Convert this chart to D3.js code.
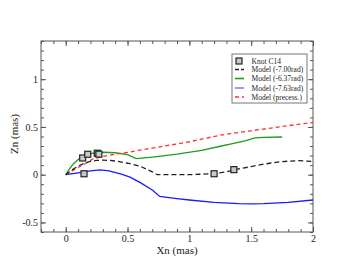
<!DOCTYPE html>
<html><head><meta charset="utf-8">
<script src="https://cdn.jsdelivr.net/npm/d3@7"></script>
<style>html,body{margin:0;padding:0;background:#fff;}svg{display:block;}</style>
</head><body>
<script>
// ---- data ----
const knotX = [0.137, 0.178, 0.255, 0.268, 0.148, 1.20, 1.36];
const knotY = [0.175, 0.214, 0.225, 0.215, 0.010, 0.010, 0.053];

const m700X = [0, 0.05, 0.1, 0.15, 0.2, 0.25, 0.3, 0.36, 0.42, 0.5, 0.6, 0.7, 0.74, 0.8, 0.9, 1.0, 1.1, 1.2, 1.3, 1.36, 1.4, 1.5, 1.6, 1.7, 1.8, 1.88, 2.0];
const m700Y = [0, 0.05, 0.09, 0.12, 0.14, 0.15, 0.152, 0.15, 0.14, 0.12, 0.09, 0.03, 0.0, 0.0, 0.0, 0.0, 0.005, 0.01, 0.03, 0.05, 0.06, 0.085, 0.11, 0.13, 0.142, 0.147, 0.138];

const m637X = [0, 0.03, 0.06, 0.1, 0.15, 0.2, 0.25, 0.3, 0.4, 0.5, 0.57, 0.7, 0.9, 1.1, 1.25, 1.33, 1.45, 1.53, 1.6, 1.75];
const m637Y = [0, 0.06, 0.11, 0.16, 0.2, 0.22, 0.23, 0.235, 0.23, 0.21, 0.168, 0.185, 0.215, 0.255, 0.298, 0.32, 0.355, 0.386, 0.39, 0.395];

const m763X = [0, 0.1, 0.2, 0.28, 0.35, 0.45, 0.52, 0.6, 0.7, 0.76, 0.9, 1.0, 1.2, 1.4, 1.5, 1.6, 1.8, 2.0];
const m763Y = [0, 0.02, 0.04, 0.05, 0.04, 0.005, -0.025, -0.08, -0.16, -0.228, -0.25, -0.265, -0.29, -0.303, -0.305, -0.302, -0.29, -0.265];

const precX = [0, 0.05, 0.1, 0.15, 0.22, 0.3, 0.4, 0.52, 0.6, 0.8, 1.0, 1.25, 1.33, 1.5, 1.75, 2.0];
const precY = [0, 0.04, 0.075, 0.11, 0.165, 0.19, 0.215, 0.238, 0.258, 0.3, 0.345, 0.414, 0.43, 0.46, 0.505, 0.547];

const xTicks = [0, 0.5, 1, 1.5, 2];
const xTickLabels = ["0", "0.5", "1", "1.5", "2"];
const yTicks = [-0.5, 0, 0.5, 1];
const yTickLabels = ["-0.5", "0", "0.5", "1"];

const legendLabels = ["Knot C14", "Model (-7.00rad)", "Model (-6.37rad)", "Model (-7.63rad)", "Model (precess.)"];

// ---- layout ----
const W = 353, H = 273;
const L = 41, R = 313, T = 41, B = 232;
const font = "Liberation Serif, Times New Roman, serif";

const x = d3.scaleLinear().domain([-0.2, 2]).range([L, R]);
const y = d3.scaleLinear().domain([-0.6, 1.4]).range([B, T]);

const svg = d3.select("body").append("svg").attr("width", W).attr("height", H);
svg.append("rect").attr("width", W).attr("height", H).attr("fill", "#fff");

const xMinor = d3.range(-2, 21).map(i => i / 10);
const yMinor = d3.range(-6, 15).map(i => i / 10);

// axes (inward ticks, all four sides)
function addAxis(axisGen, tx, ty) {
  const g = svg.append("g").attr("transform", `translate(${tx},${ty})`).call(axisGen);
  g.select(".domain").remove();
  g.selectAll("line").attr("stroke", "#555");
  g.selectAll("text").attr("font-family", font).attr("font-size", 10).attr("fill", "#222");
  return g;
}
// minor ticks
addAxis(d3.axisBottom(x).tickValues(xMinor).tickSize(-3).tickFormat(""), 0, B);
addAxis(d3.axisTop(x).tickValues(xMinor).tickSize(-3).tickFormat(""), 0, T);
addAxis(d3.axisLeft(y).tickValues(yMinor).tickSize(-3).tickFormat(""), L, 0);
addAxis(d3.axisRight(y).tickValues(yMinor).tickSize(-3).tickFormat(""), R, 0);
// major ticks
addAxis(d3.axisBottom(x).tickValues(xTicks).tickSize(-5).tickPadding(3).tickFormat((d, i) => xTickLabels[i]), 0, B);
addAxis(d3.axisTop(x).tickValues(xTicks).tickSize(-5).tickFormat(""), 0, T);
addAxis(d3.axisLeft(y).tickValues(yTicks).tickSize(-5).tickPadding(3).tickFormat((d, i) => yTickLabels[i]), L, 0);
addAxis(d3.axisRight(y).tickValues(yTicks).tickSize(-5).tickFormat(""), R, 0);

svg.append("rect").attr("x", L).attr("y", T).attr("width", R - L).attr("height", B - T)
  .attr("fill", "none").attr("stroke", "#555").attr("stroke-width", 1);

// axis titles
svg.append("text").attr("x", (L + R) / 2).attr("y", 254).attr("text-anchor", "middle")
  .attr("font-family", font).attr("font-size", 11).attr("fill", "#222").text("Xn (mas)");
svg.append("text").attr("transform", "translate(18,134) rotate(-90)").attr("text-anchor", "middle")
  .attr("font-family", font).attr("font-size", 11).attr("fill", "#222").text("Zn (mas)");

// lines
const line = d3.line().x(d => x(d[0])).y(d => y(d[1]));
svg.append("clipPath").attr("id", "clip").append("rect")
  .attr("x", L).attr("y", T).attr("width", R - L).attr("height", B - T);
const plot = svg.append("g").attr("clip-path", "url(#clip)");

const series = [
  {xs: m637X, ys: m637Y, color: "#1f9a1f", dash: null},
  {xs: m763X, ys: m763Y, color: "#1a1aff", dash: null},
  {xs: precX, ys: precY, color: "#ff3030", dash: "4,3"},
  {xs: m700X, ys: m700Y, color: "#222", dash: "5,3"}
];
series.forEach(s => {
  plot.append("path").datum(s.xs.map((v, i) => [v, s.ys[i]]))
    .attr("d", line).attr("fill", "none").attr("stroke", s.color)
    .attr("stroke-width", 1.3).attr("stroke-dasharray", s.dash);
});

// knots
plot.selectAll(".knot").data(knotX.map((v, i) => [v, knotY[i]])).enter().append("rect")
  .attr("x", d => x(d[0]) - 3).attr("y", d => y(d[1]) - 3).attr("width", 6).attr("height", 6)
  .attr("fill", "#c8c8c8").attr("stroke", "#222").attr("stroke-width", 1.2);

// legend
const lg = svg.append("g");
lg.append("rect").attr("x", 232).attr("y", 54).attr("width", 75).attr("height", 49)
  .attr("fill", "#fff").attr("stroke", "#777").attr("stroke-width", 1);
const rowY = [61, 69.5, 78.5, 88, 97];
const legStyle = [
  null,
  {color: "#222", dash: "4,2"},
  {color: "#1f9a1f", dash: null},
  {color: "#8080ff", dash: null},
  {color: "#ff3030", dash: "4,3"}
];
legStyle.forEach((s, i) => {
  const yy = rowY[i];
  if (s === null) {
    lg.append("rect").attr("x", 236).attr("y", yy - 3).attr("width", 6).attr("height", 6)
      .attr("fill", "#c8c8c8").attr("stroke", "#222").attr("stroke-width", 1.2);
  } else {
    lg.append("line").attr("x1", 235).attr("x2", 244).attr("y1", yy).attr("y2", yy)
      .attr("stroke", s.color).attr("stroke-width", 1.6).attr("stroke-dasharray", s.dash);
  }
  lg.append("text").attr("x", 251.5).attr("y", yy + 2.6).attr("font-family", font)
    .attr("font-size", 7.5).attr("fill", "#222").text(legendLabels[i]);
});
</script>
</body></html>
